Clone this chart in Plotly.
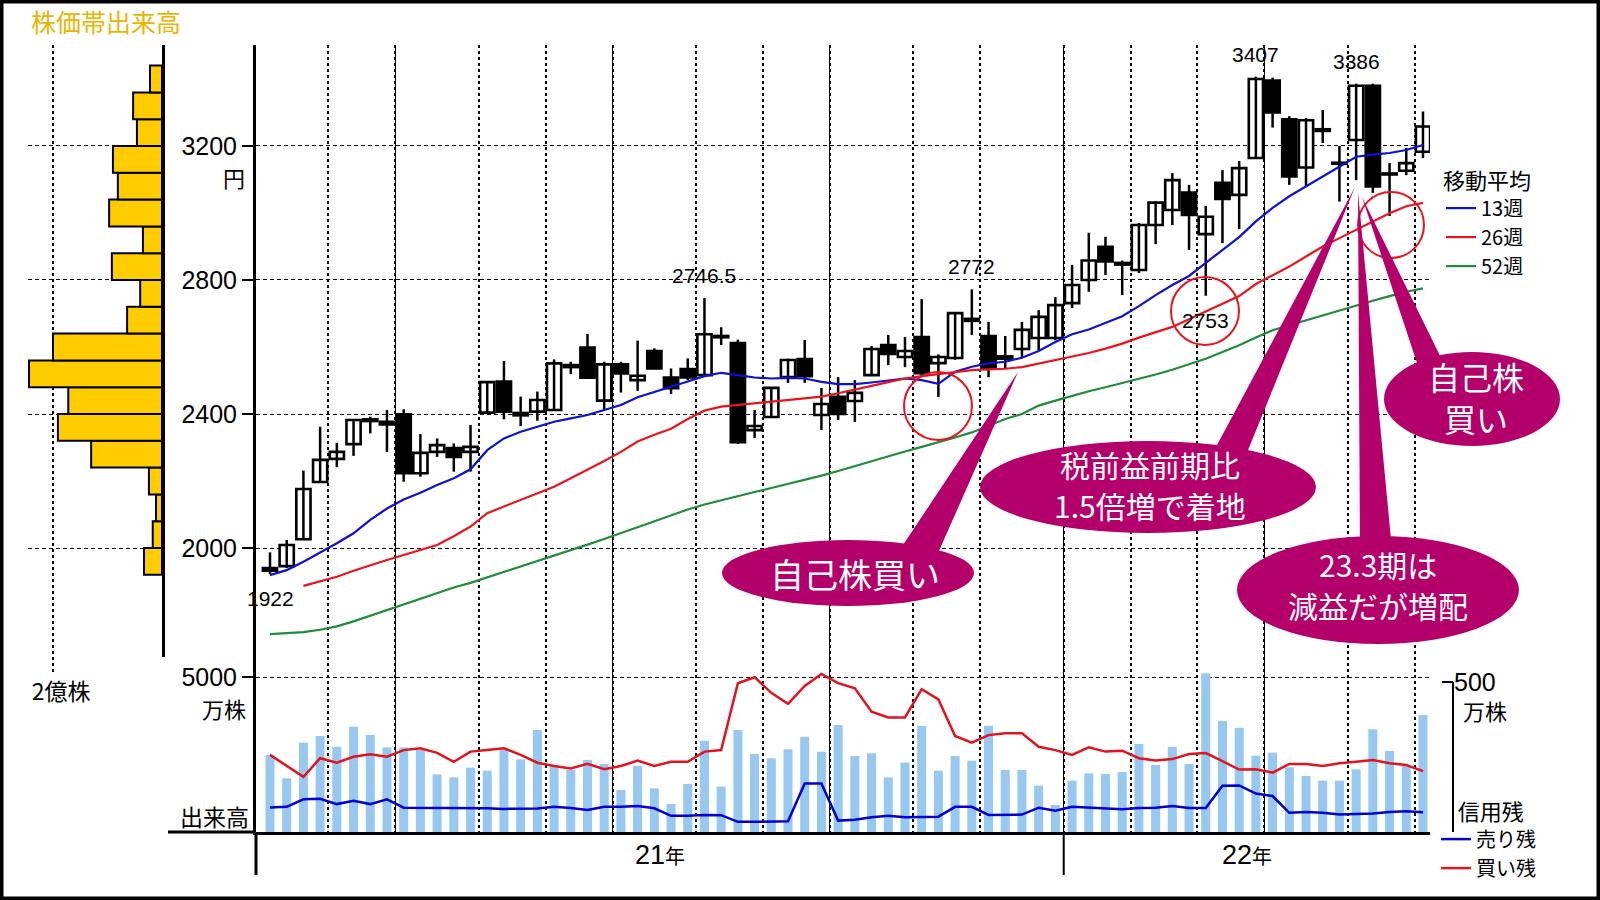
import plotly.graph_objects as go
import pandas as pd

# ---------------- data ----------------
weeks = pd.date_range("2021-02-05", periods=70, freq="7D")   # weekly candles (Friday)

opens  = [1940,1946,2026,2197,2266,2310,2379,2369,2399,2223,2287,2298,2287,2404,2497,2396,2407,2412,2540,2598,
          2440,2548,2501,2588,2509,2534,2516,2633,2612,2352,2391,2510,2564,2397,2451,2439,2516,2606,2570,2630,
          2552,2567,2678,2633,2565,2594,2627,2627,2731,2800,2899,2846,2830,2964,3009,3061,2937,3090,3054,3164,
          3395,3280,3136,3245,3147,3218,3380,3115,3126,3183]
highs  = [1987,2024,2231,2362,2314,2385,2392,2412,2414,2340,2327,2312,2367,2498,2558,2452,2467,2563,2556,2639,
          2556,2556,2619,2596,2536,2566,2746.5,2659,2622,2412,2480,2565,2621,2478,2510,2501,2603,2636,2630,2743,
          2578,2704,2772,2675,2633,2675,2710,2749,2845,2941,2929,2858,2970,3035,3119,3084,3021,3128,3155,3407,
          3404,3289,3283,3307,3200,3386,3386,3149,3194,3303]
lows   = [1922,1940,2026,2197,2241,2275,2342,2287,2198,2213,2272,2228,2228,2404,2384,2364,2380,2410,2519,2505,
          2414,2464,2469,2534,2460,2501,2516,2606,2311,2328,2391,2493,2493,2352,2382,2376,2516,2546,2540,2510,
          2451,2562,2636,2510,2534,2570,2591,2620,2716,2765,2815,2755,2821,2907,2964,2890,2753,2910,2952,3164,
          3255,3084,3079,3209,3034,3098,3060,2991,3113,3164]
closes = [1932,2009,2176,2263,2287,2382,2384,2377,2223,2284,2307,2272,2302,2495,2407,2403,2442,2551,2546,2508,
          2548,2521,2514,2536,2477,2509,2638,2629,2316,2364,2478,2561,2513,2430,2400,2463,2594,2579,2588,2522,
          2570,2701,2684,2537,2572,2651,2690,2725,2785,2858,2855,2851,2964,3031,3098,2994,2989,3042,3134,3400,
          3300,3109,3277,3250,3150,3380,3079,3118,3149,3258]

ma13 = [1919,1934,1959,1986,2014,2044,2084,2118,2145,2165,2188,2208,2235,2292,2327,2347,2362,2377,2387,2397,
        2412,2427,2450,2465,2480,2497,2513,2523,2516,2509,2506,2508,2506,2496,2489,2489,2494,2501,2506,2501,
        2490,2526,2541,2551,2556,2568,2588,2615,2638,2652,2672,2692,2722,2755,2785,2812,2851,2890,2928,2975,
        3015,3050,3080,3110,3140,3168,3174,3179,3188,3203]
ma26 = [None,None,1887,1900,1914,1932,1949,1964,1979,1994,2009,2035,2064,2104,2124,2143,2163,2183,2208,2233,
        2260,2287,2318,2338,2356,2385,2410,2422,2427,2432,2437,2442,2447,2452,2462,2472,2484,2495,2506,2513,
        2519,2525,2531,2533,2535,2540,2550,2560,2570,2582,2595,2610,2628,2643,2660,2683,2706,2728,2752,2788,
        2815,2840,2870,2900,2925,2949,2975,2999,3020,3030]
ma52 = [1743,1745,1749,1756,1766,1781,1798,1815,1832,1849,1866,1882,1896,1912,1928,1944,1960,1977,1993,2010,
        2027,2045,2062,2080,2097,2115,2130,2143,2155,2167,2179,2191,2203,2216,2230,2245,2260,2274,2288,2302,
        2315,2330,2345,2365,2385,2400,2425,2440,2455,2468,2480,2492,2505,2518,2532,2548,2565,2585,2605,2628,
        2650,2665,2680,2695,2710,2725,2738,2752,2765,2775]

volume = [2484,1731,2882,3097,2753,3398,3129,2731,2731,2645,1860,1763,2075,1978,2645,2344,3290,2107,2000,2323,
          2194,1355,2129,1409,903,1548,2946,1462,3290,2516,2376,2667,3075,2591,3452,2452,2538,1763,2236,3419,
          1978,2452,2301,3430,2000,2000,1495,871,1656,1892,1871,1936,2839,2161,2753,2194,5120,3581,3366,2462,
          2559,2086,1807,1656,1656,2022,3312,2613,2129,3774]          # 万株
margin_buy = [257,220,184,246,231,251,259,251,273,279,264,234,268,273,279,257,231,220,212,227,
              209,220,238,220,234,234,268,273,496,516,464,427,487,527,496,479,401,382,382,476,
              442,320,298,323,329,329,284,273,257,282,268,271,246,238,243,260,263,236,208,209,
              198,227,227,220,229,234,240,229,223,203]               # 買い残 万株
margin_sell = [82,84,109,111,93,104,93,109,81,81,81,81,80,79,77,77,78,84,80,73,
               84,84,87,79,54,54,57,56,34,34,36,36,162,162,38,41,49,54,49,51,
               51,84,84,57,58,58,81,71,84,81,78,76,80,81,87,80,80,154,155,128,
               120,64,67,64,58,60,62,67,69,66]                        # 売り残 万株

band_price = [1960,2040,2120,2200,2280,2360,2440,2520,2600,2680,2760,2840,2920,3000,3080,3160,3240,3320,3400]
band_volume = [0.33,0.17,0.11,0.24,1.30,1.91,1.72,2.44,2.00,0.64,0.40,0.92,0.35,0.97,0.81,0.90,0.46,0.53,0.22]  # 億株

price_ticks = [2000, 2400, 2800, 3200]
marked = [(0, "low"), (26, "high"), (42, "high"), (56, "low"), (59, "high"), (65, "high")]

# ---------------- geometry helpers ----------------
W, H = 1600, 900
def px(x): return x / W
def py(y): return 1 - y / H

idx = list(range(len(weeks)))
X_LEFT, X_RIGHT = -0.838, 69.42

month_bounds = [i - 0.5 for i in idx[1:] if weeks[i].month != weeks[i - 1].month]
quarter_bounds = [i - 0.5 for i in idx[1:] if weeks[i].month != weeks[i - 1].month and weeks[i].month in (1, 4, 7, 10)]
year_bounds = [i - 0.5 for i in idx[1:] if weeks[i].year != weeks[i - 1].year]

FONT = "Noto Sans CJK JP"
NUMFONT = "Liberation Sans"
BLACK = "#000000"
MAG = "#B4006A"

fig = go.Figure()

# ---- price-band volume histogram ----
fig.add_trace(go.Bar(x=band_volume, y=band_price, orientation="h", width=80,
                     marker=dict(color="#FFCC00", line=dict(color=BLACK, width=2)),
                     xaxis="x2", yaxis="y4", showlegend=False, hoverinfo="skip"))

# ---- candlesticks: wicks ----
wx, wy = [], []
for i in idx:
    wx += [i, i, None]
    wy += [lows[i], highs[i], None]
fig.add_trace(go.Scatter(x=wx, y=wy, mode="lines", line=dict(color=BLACK, width=2.5),
                         showlegend=False, hoverinfo="skip"))
# ---- candlesticks: bodies ----
up = [i for i in idx if closes[i] >= opens[i]]
dn = [i for i in idx if closes[i] < opens[i]]
for sel, col in ((up, "white"), (dn, BLACK)):
    fig.add_trace(go.Bar(x=sel, base=[min(opens[i], closes[i]) for i in sel],
                         y=[abs(closes[i] - opens[i]) for i in sel], width=0.85,
                         marker=dict(color=col, line=dict(color=BLACK, width=2.6)),
                         showlegend=False, hoverinfo="skip"))

# ---- moving averages ----
for vals, name, col in ((ma13, "13週", "#1010D0"), (ma26, "26週", "#E8141E"), (ma52, "52週", "#1E8C3C")):
    fig.add_trace(go.Scatter(x=idx, y=vals, mode="lines", name=name,
                             line=dict(color=col, width=2.2), legend="legend", hoverinfo="skip"))

# ---- volume ----
fig.add_trace(go.Bar(x=idx, y=volume, width=0.54, marker=dict(color="#98C8F0", line=dict(width=0)),
                     yaxis="y2", showlegend=False, hoverinfo="skip"))
# ---- margin balances ----
fig.add_trace(go.Scatter(x=idx, y=margin_sell, mode="lines", name="売り残",
                         line=dict(color="#0000D0", width=2.5), yaxis="y3", legend="legend2", hoverinfo="skip"))
fig.add_trace(go.Scatter(x=idx, y=margin_buy, mode="lines", name="買い残",
                         line=dict(color="#E0141E", width=2.5), yaxis="y3", legend="legend2", hoverinfo="skip"))

# ---------------- layout ----------------
price_lo = 2000 - (657 - 548) * 2.985
price_hi = 2000 + (548 - 45) * 2.985
vol_hi = (832 - 657) * 5000 / 155
credit_hi = (832 - 657) * 500 / 150

grid_dash = "4px,3px"
fig.update_layout(
    template="none",
    width=W, height=H, autosize=False, margin=dict(l=0, r=0, t=0, b=0, pad=0, autoexpand=False),
    paper_bgcolor="white", plot_bgcolor="white", barmode="overlay",
    font=dict(family=FONT, color=BLACK, size=22),
    xaxis=dict(domain=[px(256), px(1430)], range=[X_LEFT, X_RIGHT], anchor="y2", automargin=False,
               showline=True, linewidth=3, linecolor=BLACK, zeroline=False,
               tickvals=quarter_bounds, ticks="", showticklabels=False,
               showgrid=True, gridcolor=BLACK, gridwidth=1.3,
               minor=dict(tickvals=month_bounds, showgrid=True, gridcolor=BLACK,
                          gridwidth=2, griddash="3px,3px", ticks="")),
    yaxis=dict(domain=[py(657), py(45)], range=[price_lo, price_hi], anchor="x", automargin=False,
               showline=True, linewidth=3, linecolor=BLACK, zeroline=False,
               tickvals=price_ticks, ticks="outside", ticklen=11, tickwidth=2, tickcolor=BLACK,
               tickfont=dict(size=25, family=NUMFONT), showgrid=True, gridcolor=BLACK, gridwidth=1.3,
               griddash=grid_dash),
    yaxis2=dict(domain=[py(832), py(657)], range=[0, vol_hi], anchor="x", automargin=False,
                showline=True, linewidth=3, linecolor=BLACK, zeroline=False,
                tickvals=[5000], ticks="outside", ticklen=11, tickwidth=2, tickcolor=BLACK,
                tickfont=dict(size=25, family=NUMFONT), showgrid=True, gridcolor=BLACK, gridwidth=1.3,
                griddash=grid_dash),
    yaxis3=dict(overlaying="y2", side="right", anchor="free", position=px(1453), automargin=False,
                range=[0, credit_hi], showline=False, showgrid=False, zeroline=False,
                tickvals=[0, 500], ticktext=["", "500"], ticks="inside", ticklen=11, tickwidth=2,
                tickcolor=BLACK, tickfont=dict(size=25, family=NUMFONT)),
    xaxis2=dict(domain=[px(28), px(162)], range=[2 * (162 - 28) / (162 - 53), 0], anchor="y4",
                automargin=False,
                showline=False, zeroline=False, tickvals=[2], ticktext=["2億株"], ticks="",
                tickfont=dict(size=23), ticklabelstandoff=19, ticklabelshift=-8,
                showgrid=True, gridcolor=BLACK, gridwidth=2, griddash="3px,3px"),
    yaxis4=dict(domain=[py(657), py(45)], range=[price_lo, price_hi], anchor="x2", side="right",
                automargin=False,
                showline=True, linewidth=3, linecolor=BLACK, zeroline=False,
                tickvals=price_ticks, showticklabels=False, ticks="",
                showgrid=True, gridcolor=BLACK, gridwidth=1.3, griddash=grid_dash),
    legend=dict(x=px(1441), y=py(160), xanchor="left", yanchor="top",
                title=dict(text="移動平均", font=dict(size=22)), font=dict(size=20),
                bgcolor="rgba(0,0,0,0)", borderwidth=0, tracegroupgap=0),
    legend2=dict(x=px(1436), y=py(791), xanchor="left", yanchor="top",
                 title=dict(text="&nbsp;&nbsp;&nbsp;&nbsp;信用残", font=dict(size=22)), font=dict(size=20),
                 bgcolor="rgba(0,0,0,0)", borderwidth=0, tracegroupgap=0),
)

ann = []
def txt(x, y, s, size=22, color=BLACK, xanchor="center", yanchor="middle", family=None):
    f = dict(size=size, color=color)
    if family:
        f["family"] = family
    ann.append(dict(x=px(x), y=py(y), xref="paper", yref="paper", text=s, showarrow=False,
                    font=f, xanchor=xanchor, yanchor=yanchor, borderpad=0))

txt(30, 21, "株価帯出来高", size=25, color="#EBB400", xanchor="left")
txt(234, 177, "円", size=22)
txt(247, 708, "万株", size=22, xanchor="right")
txt(250, 816, "出来高", size=23, xanchor="right")
txt(1462, 710, "万株", size=22, xanchor="left")

# year labels centred on each year's visible span
edges = [X_LEFT] + year_bounds + [X_RIGHT]
for k in range(len(edges) - 1):
    yr = weeks[[i for i in idx if i > edges[k]][0]].year % 100
    ann.append(dict(x=(edges[k] + edges[k + 1]) / 2, y=py(855), xref="x", yref="paper",
                    text=f"<span style='font-family:Liberation Sans'>{yr}</span>"
                         f"<span style='font-size:20px'>年</span>", showarrow=False,
                    font=dict(size=27), xanchor="center", yanchor="middle"))

# price marks
for i, kind in marked:
    v = highs[i] if kind == "high" else lows[i]
    ann.append(dict(x=i, y=v, xref="x", yref="y", text=f"{v:g}", showarrow=False,
                    font=dict(size=21, family=NUMFONT), xanchor="center",
                    yanchor="bottom" if kind == "high" else "top",
                    yshift=9 if kind == "high" else -11))

# callout texts
txt(855, 573, "自己株買い", size=34, color="white")
txt(1150, 464, "税前益前期比", size=30, color="white")
txt(1150, 505, "1.5倍増で着地", size=30, color="white")
txt(1378, 564, "23.3期は", size=30, color="white")
txt(1378, 605, "減益だが増配", size=30, color="white")
txt(1476, 397, "自己株<br>買い", size=32, color="white")

shapes = []
def pline(x0, y0, x1, y1, w=3, color=BLACK, dash=None):
    shapes.append(dict(type="line", xref="paper", yref="paper", x0=px(x0), y0=py(y0), x1=px(x1), y1=py(y1),
                       line=dict(color=color, width=w, dash=dash)))
def ellipse(cx, cy, rx, ry, fill=None, color=None, w=0):
    shapes.append(dict(type="circle", xref="paper", yref="paper", x0=px(cx - rx), x1=px(cx + rx),
                       y0=py(cy + ry), y1=py(cy - ry), fillcolor=fill or "rgba(0,0,0,0)",
                       line=dict(color=color or "rgba(0,0,0,0)", width=w)))
def poly(points, fill):
    p = "M " + " L ".join(f"{px(a):.5f},{py(b):.5f}" for a, b in points) + " Z"
    shapes.append(dict(type="path", xref="paper", yref="paper", path=p, fillcolor=fill,
                       line=dict(width=0)))

# axis extensions
pline(168, 832, 256, 832, w=3)
pline(256, 832, 256, 875, w=3)
for b in year_bounds:
    shapes.append(dict(type="line", xref="x", yref="paper", x0=b, x1=b, y0=py(832), y1=py(875),
                       line=dict(color=BLACK, width=2)))
# 2億株 guide extension below histogram
shapes.append(dict(type="line", xref="x2", yref="paper", x0=2, x1=2, y0=py(657), y1=py(672),
                   line=dict(color=BLACK, width=2, dash="3px,3px")))
# credit bracket
shapes.append(dict(type="line", xref="paper", yref="y3", x0=px(1453), x1=px(1453), y0=0, y1=500,
                   line=dict(color=BLACK, width=2)))

# red circles
ellipse(938, 406, 34, 34, color="#E8141E", w=2)
ellipse(1205, 311, 34, 34, color="#E8141E", w=2)
ellipse(1391, 225, 33, 33, color="#E8141E", w=2)

# callouts
poly([(893, 560), (935, 560), (1018, 372)], MAG)
ellipse(848, 573, 126, 33, fill=MAG)
poly([(1209, 460), (1244, 460), (1355, 187)], MAG)
ellipse(1148, 487, 168, 46, fill=MAG)
poly([(1360, 550), (1392, 550), (1358, 192)], MAG)
ellipse(1378, 590, 141, 54, fill=MAG)
poly([(1420, 372), (1448, 372), (1362, 197)], MAG)
ellipse(1472, 399, 88, 47, fill=MAG)

# frame
shapes.append(dict(type="rect", xref="paper", yref="paper", x0=0, y0=0, x1=1, y1=1,
                   line=dict(color=BLACK, width=7)))

fig.update_layout(annotations=ann, shapes=shapes)
fig.write_html("out.html", config={"displayModeBar": False},
               post_script="document.body.style.margin='0';document.body.style.overflow='hidden';")
